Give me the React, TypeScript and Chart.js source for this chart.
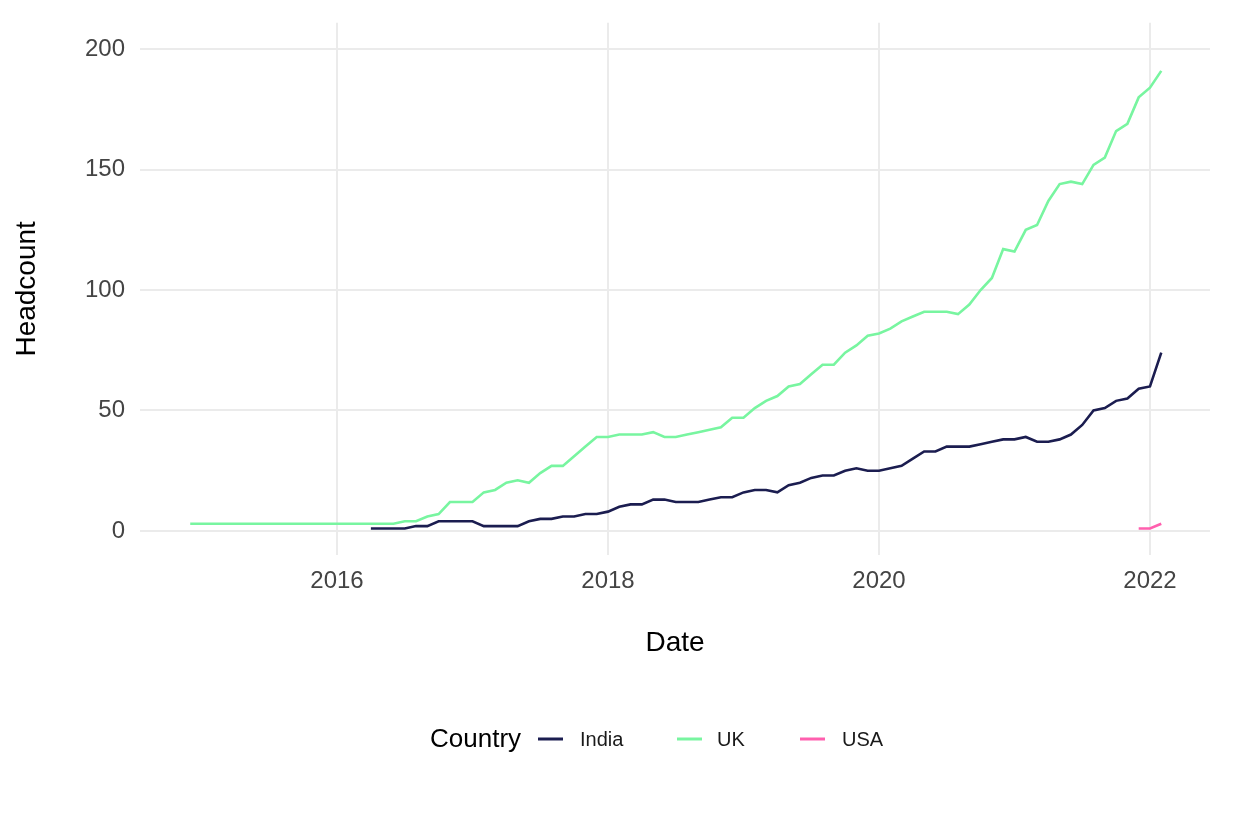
import { useEffect, useRef } from "react";
import Chart from "chart.js/auto";

// monthly headcount, each series starts at its own month
const countries = ["India", "UK", "USA"];
const colors = ["#1b1d50", "#78f5a0", "#ff5fae"];

const indiaStart = "2016-04";
const indiaHeadcount = [
  1, 1, 1, 1, 2, 2, 4, 4, 4, 4, 2, 2, 2, 2, 4, 5, 5, 6, 6, 7, 7, 8, 10, 11, 11,
  13, 13, 12, 12, 12, 13, 14, 14, 16, 17, 17, 16, 19, 20, 22, 23, 23, 25, 26,
  25, 25, 26, 27, 30, 33, 33, 35, 35, 35, 36, 37, 38, 38, 39, 37, 37, 38, 40,
  44, 50, 51, 54, 55, 59, 60, 74,
];

const ukStart = "2014-12";
const ukHeadcount = [
  3, 3, 3, 3, 3, 3, 3, 3, 3, 3, 3, 3, 3, 3, 3, 3, 3, 3, 3, 4, 4, 6, 7, 12, 12,
  12, 16, 17, 20, 21, 20, 24, 27, 27, 31, 35, 39, 39, 40, 40, 40, 41, 39, 39,
  40, 41, 42, 43, 47, 47, 51, 54, 56, 60, 61, 65, 69, 69, 74, 77, 81, 82, 84,
  87, 89, 91, 91, 91, 90, 94, 100, 105, 117, 116, 125, 127, 137, 144, 145, 144,
  152, 155, 166, 169, 180, 184, 191,
];

const usaStart = "2021-12";
const usaHeadcount = [1, 1, 3];

const xTicks = [2016, 2018, 2020, 2022];
const yTicks = [0, 50, 100, 150, 200];

const FONT = "'Liberation Sans', Arial, sans-serif";

const toPoints = (start: string, values: number[]) => {
  const [y0, m0] = start.split("-").map(Number);
  return values.map((v, i) => {
    const m = m0 - 1 + i;
    return { x: y0 + Math.floor(m / 12) + (m % 12) / 12, y: v };
  });
};

const legendPlugin = {
  id: "ggLegend",
  afterDraw(chart: any) {
    const ctx = chart.ctx;
    const cy = 740;
    ctx.save();
    ctx.textBaseline = "middle";
    ctx.textAlign = "left";
    ctx.fillStyle = "#000";
    ctx.font = `26px ${FONT}`;
    ctx.fillText("Country", 430, cy);
    const swatchX = [538, 677, 800];
    const labelX = [580, 717, 842];
    ctx.font = `20px ${FONT}`;
    countries.forEach((c, i) => {
      ctx.strokeStyle = colors[i];
      ctx.lineWidth = 3;
      ctx.beginPath();
      ctx.moveTo(swatchX[i], cy - 1);
      ctx.lineTo(swatchX[i] + 25, cy - 1);
      ctx.stroke();
      ctx.fillStyle = "#1a1a1a";
      ctx.fillText(c, labelX[i], cy);
    });
    ctx.restore();
  },
};

export default function App() {
  const chartRef = useRef<HTMLCanvasElement>(null);

  useEffect(() => {
    if (!chartRef.current) return;
    const series = [
      toPoints(indiaStart, indiaHeadcount),
      toPoints(ukStart, ukHeadcount),
      toPoints(usaStart, usaHeadcount),
    ];
    const chart = new Chart(chartRef.current, {
      type: "line",
      data: {
        datasets: countries.map((c, i) => ({
          label: c,
          data: series[i],
          borderColor: colors[i],
          backgroundColor: colors[i],
          borderWidth: 2.6,
          pointRadius: 0,
          tension: 0,
          fill: false,
        })),
      },
      options: {
        responsive: false,
        animation: false,
        layout: { padding: { top: 22.7, right: 24, left: 0, bottom: 0 } },
        plugins: {
          legend: { display: false },
          tooltip: { enabled: false },
        },
        scales: {
          x: {
            type: "linear",
            min: 2014.546,
            max: 2022.443,
            afterBuildTicks: (axis: any) => {
              axis.ticks = xTicks.map((v) => ({ value: v }));
            },
            afterFit: (axis: any) => {
              axis.height = 261;
              axis.paddingLeft = 0;
              axis.paddingRight = 0;
            },
            grid: { color: "#ebebeb", lineWidth: 2, drawTicks: false },
            border: { display: false },
            ticks: {
              padding: 12,
              color: "#444",
              font: { family: FONT, size: 24 },
              callback: (v: any) => String(v),
            },
            title: {
              display: true,
              text: "Date",
              color: "#000",
              font: { family: FONT, size: 28 },
              padding: { top: 0, bottom: 156 },
            },
          },
          y: {
            type: "linear",
            min: -10,
            max: 211,
            afterBuildTicks: (axis: any) => {
              axis.ticks = yTicks.map((v) => ({ value: v }));
            },
            afterFit: (axis: any) => {
              axis.width = 140;
              axis.paddingTop = 0;
              axis.paddingBottom = 0;
            },
            grid: { color: "#ebebeb", lineWidth: 2, drawTicks: false },
            border: { display: false },
            ticks: {
              padding: 15,
              color: "#444",
              font: { family: FONT, size: 24 },
            },
            title: {
              display: true,
              text: "Headcount",
              color: "#000",
              font: { family: FONT, size: 28 },
              padding: { top: 10, bottom: 0 },
            },
          },
        },
      },
      plugins: [legendPlugin],
    });
    return () => chart.destroy();
  }, []);

  return (
    <div
      style={{
        position: "fixed",
        left: 0,
        top: 0,
        width: 1234,
        height: 816,
        background: "#fff",
      }}
    >
      <canvas ref={chartRef} width={1234} height={816} />
    </div>
  );
}
